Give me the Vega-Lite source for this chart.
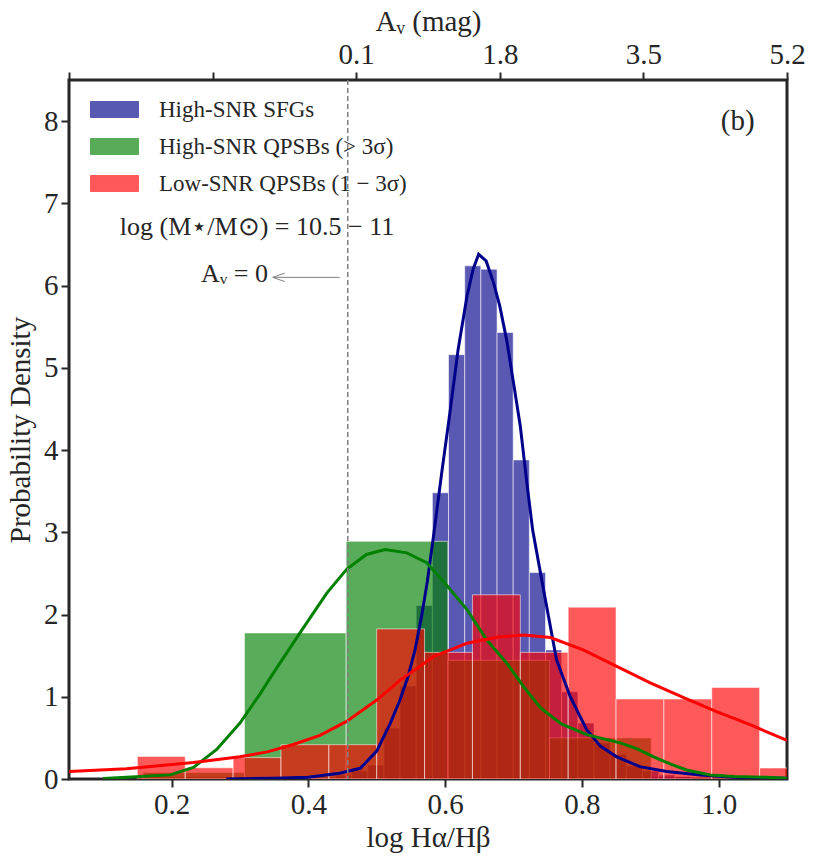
{
  "$schema": "https://vega.github.io/schema/vega-lite/v6.json",
  "width": 718,
  "height": 699,
  "autosize": {"type": "none"},
  "padding": {"left": 69, "top": 80, "right": 27, "bottom": 87},
  "background": "white",
  "datasets": {
    "hist": [
      {"sample": "High-SNR SFGs", "x0": 0.4159, "x1": 0.4396, "density": 0.02},
      {"sample": "High-SNR SFGs", "x0": 0.4396, "x1": 0.4632, "density": 0.05},
      {"sample": "High-SNR SFGs", "x0": 0.4632, "x1": 0.4869, "density": 0.10},
      {"sample": "High-SNR SFGs", "x0": 0.4869, "x1": 0.5105, "density": 0.17},
      {"sample": "High-SNR SFGs", "x0": 0.5105, "x1": 0.5341, "density": 0.62},
      {"sample": "High-SNR SFGs", "x0": 0.5341, "x1": 0.5578, "density": 1.13},
      {"sample": "High-SNR SFGs", "x0": 0.5578, "x1": 0.5814, "density": 2.11},
      {"sample": "High-SNR SFGs", "x0": 0.5814, "x1": 0.6050, "density": 3.48},
      {"sample": "High-SNR SFGs", "x0": 0.6050, "x1": 0.6287, "density": 5.16},
      {"sample": "High-SNR SFGs", "x0": 0.6287, "x1": 0.6523, "density": 6.24},
      {"sample": "High-SNR SFGs", "x0": 0.6523, "x1": 0.6760, "density": 6.20},
      {"sample": "High-SNR SFGs", "x0": 0.6760, "x1": 0.6996, "density": 5.43},
      {"sample": "High-SNR SFGs", "x0": 0.6996, "x1": 0.7232, "density": 3.88},
      {"sample": "High-SNR SFGs", "x0": 0.7232, "x1": 0.7469, "density": 2.51},
      {"sample": "High-SNR SFGs", "x0": 0.7469, "x1": 0.7705, "density": 1.57},
      {"sample": "High-SNR SFGs", "x0": 0.7705, "x1": 0.7942, "density": 1.06},
      {"sample": "High-SNR SFGs", "x0": 0.7942, "x1": 0.8178, "density": 0.68},
      {"sample": "High-SNR SFGs", "x0": 0.8178, "x1": 0.8414, "density": 0.44},
      {"sample": "High-SNR SFGs", "x0": 0.8414, "x1": 0.8651, "density": 0.30},
      {"sample": "High-SNR SFGs", "x0": 0.8651, "x1": 0.8887, "density": 0.16},
      {"sample": "High-SNR SFGs", "x0": 0.8887, "x1": 0.9124, "density": 0.10},
      {"sample": "High-SNR SFGs", "x0": 0.9124, "x1": 0.9360, "density": 0.05},
      {"sample": "High-SNR SFGs", "x0": 0.9360, "x1": 0.9596, "density": 0.03},
      {"sample": "High-SNR QPSBs (> 3σ)", "x0": 0.1579, "x1": 0.3066, "density": 0.08},
      {"sample": "High-SNR QPSBs (> 3σ)", "x0": 0.3066, "x1": 0.4553, "density": 1.776},
      {"sample": "High-SNR QPSBs (> 3σ)", "x0": 0.4553, "x1": 0.6040, "density": 2.89},
      {"sample": "High-SNR QPSBs (> 3σ)", "x0": 0.6040, "x1": 0.7527, "density": 1.443},
      {"sample": "High-SNR QPSBs (> 3σ)", "x0": 0.7527, "x1": 0.9014, "density": 0.50},
      {"sample": "Low-SNR QPSBs (1 − 3σ)", "x0": 0.15, "x1": 0.22, "density": 0.275},
      {"sample": "Low-SNR QPSBs (1 − 3σ)", "x0": 0.22, "x1": 0.29, "density": 0.137},
      {"sample": "Low-SNR QPSBs (1 − 3σ)", "x0": 0.29, "x1": 0.36, "density": 0.26},
      {"sample": "Low-SNR QPSBs (1 − 3σ)", "x0": 0.36, "x1": 0.43, "density": 0.417},
      {"sample": "Low-SNR QPSBs (1 − 3σ)", "x0": 0.43, "x1": 0.50, "density": 0.417},
      {"sample": "Low-SNR QPSBs (1 − 3σ)", "x0": 0.50, "x1": 0.57, "density": 1.825},
      {"sample": "Low-SNR QPSBs (1 − 3σ)", "x0": 0.57, "x1": 0.64, "density": 1.54},
      {"sample": "Low-SNR QPSBs (1 − 3σ)", "x0": 0.64, "x1": 0.71, "density": 2.24},
      {"sample": "Low-SNR QPSBs (1 − 3σ)", "x0": 0.71, "x1": 0.78, "density": 1.54},
      {"sample": "Low-SNR QPSBs (1 − 3σ)", "x0": 0.78, "x1": 0.85, "density": 2.09},
      {"sample": "Low-SNR QPSBs (1 − 3σ)", "x0": 0.85, "x1": 0.92, "density": 0.973},
      {"sample": "Low-SNR QPSBs (1 − 3σ)", "x0": 0.92, "x1": 0.99, "density": 0.973},
      {"sample": "Low-SNR QPSBs (1 − 3σ)", "x0": 0.99, "x1": 1.06, "density": 1.114},
      {"sample": "Low-SNR QPSBs (1 − 3σ)", "x0": 1.06, "x1": 1.13, "density": 0.134}
    ],
    "kde": [
      {"sample": "High-SNR SFGs", "x": 0.28, "y": 0.0},
      {"sample": "High-SNR SFGs", "x": 0.35, "y": 0.01},
      {"sample": "High-SNR SFGs", "x": 0.40, "y": 0.02},
      {"sample": "High-SNR SFGs", "x": 0.446, "y": 0.07},
      {"sample": "High-SNR SFGs", "x": 0.476, "y": 0.13},
      {"sample": "High-SNR SFGs", "x": 0.50, "y": 0.34},
      {"sample": "High-SNR SFGs", "x": 0.52, "y": 0.68},
      {"sample": "High-SNR SFGs", "x": 0.534, "y": 0.96},
      {"sample": "High-SNR SFGs", "x": 0.546, "y": 1.25},
      {"sample": "High-SNR SFGs", "x": 0.556, "y": 1.57},
      {"sample": "High-SNR SFGs", "x": 0.565, "y": 1.95},
      {"sample": "High-SNR SFGs", "x": 0.574, "y": 2.40},
      {"sample": "High-SNR SFGs", "x": 0.583, "y": 2.95},
      {"sample": "High-SNR SFGs", "x": 0.595, "y": 3.72},
      {"sample": "High-SNR SFGs", "x": 0.607, "y": 4.45},
      {"sample": "High-SNR SFGs", "x": 0.619, "y": 5.22},
      {"sample": "High-SNR SFGs", "x": 0.632, "y": 5.87},
      {"sample": "High-SNR SFGs", "x": 0.641, "y": 6.20},
      {"sample": "High-SNR SFGs", "x": 0.649, "y": 6.38},
      {"sample": "High-SNR SFGs", "x": 0.660, "y": 6.30},
      {"sample": "High-SNR SFGs", "x": 0.671, "y": 6.03},
      {"sample": "High-SNR SFGs", "x": 0.680, "y": 5.75},
      {"sample": "High-SNR SFGs", "x": 0.690, "y": 5.34},
      {"sample": "High-SNR SFGs", "x": 0.700, "y": 4.82},
      {"sample": "High-SNR SFGs", "x": 0.710, "y": 4.29},
      {"sample": "High-SNR SFGs", "x": 0.719, "y": 3.64},
      {"sample": "High-SNR SFGs", "x": 0.728, "y": 3.03},
      {"sample": "High-SNR SFGs", "x": 0.744, "y": 2.30},
      {"sample": "High-SNR SFGs", "x": 0.763, "y": 1.45},
      {"sample": "High-SNR SFGs", "x": 0.783, "y": 1.00},
      {"sample": "High-SNR SFGs", "x": 0.807, "y": 0.60},
      {"sample": "High-SNR SFGs", "x": 0.827, "y": 0.40},
      {"sample": "High-SNR SFGs", "x": 0.851, "y": 0.27},
      {"sample": "High-SNR SFGs", "x": 0.885, "y": 0.15},
      {"sample": "High-SNR SFGs", "x": 0.924, "y": 0.09},
      {"sample": "High-SNR SFGs", "x": 0.973, "y": 0.05},
      {"sample": "High-SNR SFGs", "x": 1.022, "y": 0.02},
      {"sample": "High-SNR SFGs", "x": 1.10, "y": 0.01},
      {"sample": "High-SNR QPSBs (> 3σ)", "x": 0.10, "y": 0.005},
      {"sample": "High-SNR QPSBs (> 3σ)", "x": 0.134, "y": 0.02},
      {"sample": "High-SNR QPSBs (> 3σ)", "x": 0.198, "y": 0.05},
      {"sample": "High-SNR QPSBs (> 3σ)", "x": 0.232, "y": 0.14},
      {"sample": "High-SNR QPSBs (> 3σ)", "x": 0.266, "y": 0.36},
      {"sample": "High-SNR QPSBs (> 3σ)", "x": 0.300, "y": 0.68},
      {"sample": "High-SNR QPSBs (> 3σ)", "x": 0.329, "y": 1.03},
      {"sample": "High-SNR QPSBs (> 3σ)", "x": 0.349, "y": 1.29},
      {"sample": "High-SNR QPSBs (> 3σ)", "x": 0.388, "y": 1.78},
      {"sample": "High-SNR QPSBs (> 3σ)", "x": 0.427, "y": 2.26},
      {"sample": "High-SNR QPSBs (> 3σ)", "x": 0.456, "y": 2.55},
      {"sample": "High-SNR QPSBs (> 3σ)", "x": 0.485, "y": 2.73},
      {"sample": "High-SNR QPSBs (> 3σ)", "x": 0.512, "y": 2.79},
      {"sample": "High-SNR QPSBs (> 3σ)", "x": 0.544, "y": 2.75},
      {"sample": "High-SNR QPSBs (> 3σ)", "x": 0.573, "y": 2.63},
      {"sample": "High-SNR QPSBs (> 3σ)", "x": 0.602, "y": 2.36},
      {"sample": "High-SNR QPSBs (> 3σ)", "x": 0.632, "y": 2.06},
      {"sample": "High-SNR QPSBs (> 3σ)", "x": 0.661, "y": 1.69},
      {"sample": "High-SNR QPSBs (> 3σ)", "x": 0.690, "y": 1.41},
      {"sample": "High-SNR QPSBs (> 3σ)", "x": 0.715, "y": 1.12},
      {"sample": "High-SNR QPSBs (> 3σ)", "x": 0.740, "y": 0.86},
      {"sample": "High-SNR QPSBs (> 3σ)", "x": 0.770, "y": 0.67},
      {"sample": "High-SNR QPSBs (> 3σ)", "x": 0.807, "y": 0.54},
      {"sample": "High-SNR QPSBs (> 3σ)", "x": 0.856, "y": 0.44},
      {"sample": "High-SNR QPSBs (> 3σ)", "x": 0.880, "y": 0.37},
      {"sample": "High-SNR QPSBs (> 3σ)", "x": 0.905, "y": 0.27},
      {"sample": "High-SNR QPSBs (> 3σ)", "x": 0.930, "y": 0.18},
      {"sample": "High-SNR QPSBs (> 3σ)", "x": 0.953, "y": 0.11},
      {"sample": "High-SNR QPSBs (> 3σ)", "x": 0.988, "y": 0.05},
      {"sample": "High-SNR QPSBs (> 3σ)", "x": 1.022, "y": 0.03},
      {"sample": "High-SNR QPSBs (> 3σ)", "x": 1.07, "y": 0.02},
      {"sample": "High-SNR QPSBs (> 3σ)", "x": 1.10, "y": 0.01},
      {"sample": "Low-SNR QPSBs (1 − 3σ)", "x": 0.05, "y": 0.09},
      {"sample": "Low-SNR QPSBs (1 − 3σ)", "x": 0.134, "y": 0.125},
      {"sample": "Low-SNR QPSBs (1 − 3σ)", "x": 0.232, "y": 0.20},
      {"sample": "Low-SNR QPSBs (1 − 3σ)", "x": 0.300, "y": 0.27},
      {"sample": "Low-SNR QPSBs (1 − 3σ)", "x": 0.340, "y": 0.33},
      {"sample": "Low-SNR QPSBs (1 − 3σ)", "x": 0.378, "y": 0.42},
      {"sample": "Low-SNR QPSBs (1 − 3σ)", "x": 0.417, "y": 0.53},
      {"sample": "Low-SNR QPSBs (1 − 3σ)", "x": 0.456, "y": 0.70},
      {"sample": "Low-SNR QPSBs (1 − 3σ)", "x": 0.500, "y": 0.96},
      {"sample": "Low-SNR QPSBs (1 − 3σ)", "x": 0.534, "y": 1.20},
      {"sample": "Low-SNR QPSBs (1 − 3σ)", "x": 0.583, "y": 1.49},
      {"sample": "Low-SNR QPSBs (1 − 3σ)", "x": 0.632, "y": 1.65},
      {"sample": "Low-SNR QPSBs (1 − 3σ)", "x": 0.680, "y": 1.73},
      {"sample": "Low-SNR QPSBs (1 − 3σ)", "x": 0.715, "y": 1.75},
      {"sample": "Low-SNR QPSBs (1 − 3σ)", "x": 0.754, "y": 1.72},
      {"sample": "Low-SNR QPSBs (1 − 3σ)", "x": 0.802, "y": 1.57},
      {"sample": "Low-SNR QPSBs (1 − 3σ)", "x": 0.851, "y": 1.37},
      {"sample": "Low-SNR QPSBs (1 − 3σ)", "x": 0.900, "y": 1.17},
      {"sample": "Low-SNR QPSBs (1 − 3σ)", "x": 0.949, "y": 0.99},
      {"sample": "Low-SNR QPSBs (1 − 3σ)", "x": 0.997, "y": 0.82},
      {"sample": "Low-SNR QPSBs (1 − 3σ)", "x": 1.046, "y": 0.66},
      {"sample": "Low-SNR QPSBs (1 − 3σ)", "x": 1.10, "y": 0.47}
    ]
  },
  "layer": [
    {
      "layer": [
        {
          "data": {"name": "hist"},
          "mark": {"type": "rect", "fillOpacity": 0.65, "stroke": "white", "strokeWidth": 1, "strokeOpacity": 0.55, "clip": true},
          "encoding": {
            "x": {
              "field": "x0",
              "type": "quantitative",
              "scale": {"domain": [0.05, 1.1], "nice": false, "zero": false},
              "axis": {"orient": "bottom", "values": [0.2, 0.4, 0.6, 0.8, 1.0], "format": ".1f", "titlePadding": 4},
              "title": "log Hα/Hβ"
            },
            "x2": {"field": "x1"},
            "y": {
              "field": "density",
              "type": "quantitative",
              "scale": {"domain": [0, 8.5], "nice": false},
              "axis": {"values": [0, 1, 2, 3, 4, 5, 6, 7, 8], "format": "d", "titlePadding": 8},
              "title": "Probability Density"
            },
            "y2": {"datum": 0},
            "color": {
              "field": "sample",
              "type": "nominal",
              "scale": {
                "domain": ["High-SNR SFGs", "High-SNR QPSBs (> 3σ)", "Low-SNR QPSBs (1 − 3σ)"],
                "range": ["#00008B", "#008000", "#FF0000"]
              },
              "legend": {
                "orient": "none",
                "legendX": 21,
                "legendY": 5,
                "title": null,
                "symbolType": "M-1,-0.333H1V0.333H-1Z",
                "symbolSize": 2304,
                "symbolOpacity": 0.65,
                "symbolStrokeColor": "white",
                "symbolStrokeWidth": 1,
                "labelFont": "Liberation Serif",
                "labelFontSize": 23,
                "labelColor": "#262626",
                "labelOffset": 20,
                "labelLimit": 400,
                "rowPadding": -13
              }
            }
          }
        },
        {
          "data": {"name": "kde"},
          "mark": {"type": "line", "strokeWidth": 3, "clip": true},
          "encoding": {
            "x": {"field": "x", "type": "quantitative"},
            "y": {"field": "y", "type": "quantitative"},
            "detail": {"field": "sample", "type": "nominal"},
            "stroke": {
              "field": "sample",
              "type": "nominal",
              "scale": {
                "domain": ["High-SNR SFGs", "High-SNR QPSBs (> 3σ)", "Low-SNR QPSBs (1 − 3σ)"],
                "range": ["#00008B", "#008000", "#FF0000"]
              },
              "legend": null
            }
          }
        },
        {
          "data": {"values": [{"x": 0.446, "x2": 0.348, "y": 6.10}]},
          "mark": {"type": "rule", "color": "#808080", "strokeWidth": 1},
          "encoding": {
            "x": {"field": "x", "type": "quantitative"},
            "x2": {"field": "x2"},
            "y": {"field": "y", "type": "quantitative"}
          }
        },
        {
          "data": {"values": [{"x": 0.348, "y": 6.10}]},
          "mark": {"type": "point", "shape": "M0,0L2,-0.7M0,0L2,0.7", "size": 144, "filled": false, "color": "#808080", "strokeWidth": 1, "opacity": 1},
          "encoding": {
            "x": {"field": "x", "type": "quantitative"},
            "y": {"field": "y", "type": "quantitative"}
          }
        },
        {
          "data": {"values": [{"x": 0.341, "y": 6.14, "label": "Aᵥ = 0"}]},
          "mark": {"type": "text", "align": "right", "baseline": "middle", "font": "Liberation Serif", "fontSize": 26, "color": "#262626"},
          "encoding": {
            "x": {"field": "x", "type": "quantitative"},
            "y": {"field": "y", "type": "quantitative"},
            "text": {"field": "label"}
          }
        },
        {
          "data": {"values": [{"x": 0.325, "y": 6.71, "label": "log (M⋆/M⊙) = 10.5 − 11"}]},
          "mark": {"type": "text", "align": "center", "baseline": "middle", "font": "Liberation Serif", "fontSize": 26, "color": "#262626"},
          "encoding": {
            "x": {"field": "x", "type": "quantitative"},
            "y": {"field": "y", "type": "quantitative"},
            "text": {"field": "label"}
          }
        },
        {
          "data": {"values": [{"x": 1.028, "y": 8.0, "label": "(b)"}]},
          "mark": {"type": "text", "align": "center", "baseline": "middle", "font": "Liberation Serif", "fontSize": 29, "color": "#262626"},
          "encoding": {
            "x": {"field": "x", "type": "quantitative"},
            "y": {"field": "y", "type": "quantitative"},
            "text": {"field": "label"}
          }
        }
      ]
    },
    {
      "data": {"values": [{"av": 0}]},
      "mark": {"type": "rule", "color": "#808080", "strokeWidth": 1.5, "strokeDash": [5, 3]},
      "encoding": {
        "x": {
          "field": "av",
          "type": "quantitative",
          "scale": {"domain": [-3.3, 5.2], "nice": false, "zero": false},
          "axis": {
            "orient": "top",
            "values": [-3.3, -1.6, 0.1, 1.8, 3.5, 5.2],
            "labelExpr": "datum.value < 0 ? '' : format(datum.value, '.1f')",
            "titlePadding": 4
          },
          "title": "Aᵥ (mag)"
        }
      }
    }
  ],
  "resolve": {"scale": {"x": "independent"}},
  "config": {
    "view": {"stroke": "#262626", "strokeWidth": 3},
    "axis": {
      "domain": false,
      "grid": false,
      "ticks": true,
      "tickColor": "#262626",
      "tickWidth": 2,
      "tickSize": 8,
      "labelFont": "Liberation Serif",
      "labelFontSize": 29,
      "labelColor": "#262626",
      "labelPadding": 3,
      "labelFlush": false,
      "titleFont": "Liberation Serif",
      "titleFontSize": 29,
      "titleFontWeight": "normal",
      "titleColor": "#262626"
    }
  }
}
